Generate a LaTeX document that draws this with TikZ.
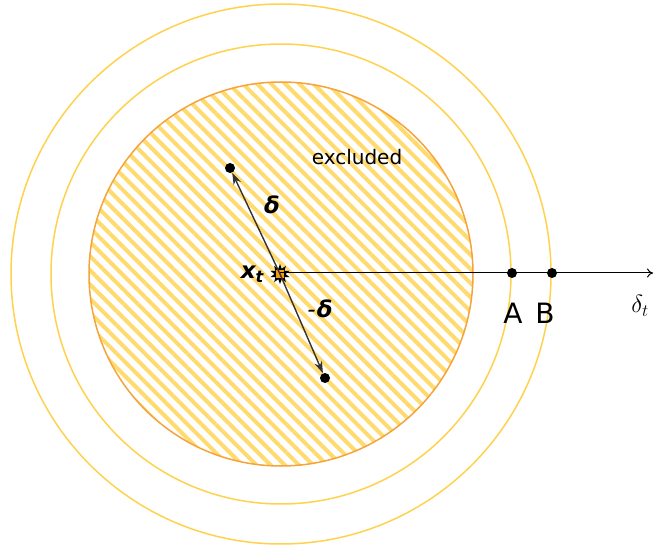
\documentclass[tikz,border=0pt]{standalone}
\usepackage{fontspec}
\setmainfont{DejaVu Sans}
\usetikzlibrary{patterns.meta,arrows.meta,shapes.geometric,positioning}
\definecolor{ringyellow}{HTML}{FFD24D}
\definecolor{hatchyellow}{HTML}{FFDA6E}
\definecolor{rimorange}{HTML}{F5A33A}
\definecolor{ctrorange}{HTML}{F39C12}
\begin{document}
\begin{tikzpicture}[x=1pt,y=-1pt,
    ring/.style={draw=ringyellow, line width=1.5pt},
    excl/.style={draw=rimorange, line width=1.5pt,
      pattern={Lines[angle=-45,distance=10pt,line width=4pt]}, pattern color=hatchyellow},
    ptdot/.style={circle, fill=black, inner sep=0pt, minimum size=10pt},
    vec/.style={-{Stealth[length=12pt,width=8pt]}, line width=1.4pt, draw=black!80},
    axis/.style={-{To[length=6pt,width=9pt]}, line width=1pt},
    veclbl/.style={font=\fontsize{23}{25}\selectfont\bfseries\itshape},
    ptlbl/.style={font=\fontsize{28}{30}\selectfont},
    every node/.style={inner sep=0pt}
  ]
  \useasboundingbox (0,0) rectangle (654,548);
  % rings and excluded disc
  \draw[ring] (281,274) circle[radius=270];
  \draw[ring] (281,274) circle[radius=230];
  \draw[excl] (281,274) circle[radius=192];
  \node[font=\fontsize{20}{22}\selectfont] (excl) at (357,157) {excluded};

  % centre point
  \node[star, star points=10, star point ratio=1.8, fill=black, minimum size=20pt] (xt) at (280,274) {};
  \node[fill=ctrorange, minimum size=8pt] (xtc) at (xt) {};
  \node[veclbl, left=10pt of xt] (lxt) {x\textsubscript{t}};

  % step vectors
  \node[ptdot] (dp) at (230,168) {};
  \node[ptdot] (dm) at (325,378) {};
  \draw[vec] (xt.center) -- (dp);
  \draw[vec] (xt.center) -- (dm);
  \node[veclbl] (ldp) at (272,205) {δ};
  \node[veclbl] (ldm) at (320,309) {\mdseries-\kern1pt\bfseries δ};

  % axis with A and B
  \coordinate (axend) at (653,273);
  \draw[axis] (xt.center |- axend) -- (axend);
  \node[ptdot] (pa) at (512,273) {};
  \node[ptdot] (pb) at (552,273) {};
  \node[ptlbl] (la) at (513,313) {A};
  \node[ptlbl] (lb) at (545,313) {B};
  \node[font=\fontsize{24}{26}\selectfont] (ldt) at (640,306) {$\delta_t$};
\end{tikzpicture}
\end{document}
